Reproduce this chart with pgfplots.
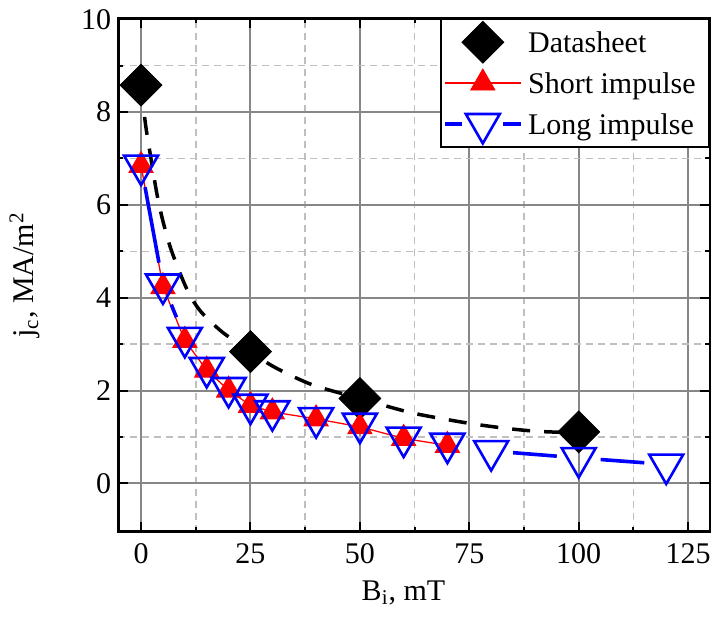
\documentclass[border=0pt]{standalone}
\usepackage{fontspec}
\setmainfont{Liberation Serif}
\usepackage{pgfplots}
\pgfplotsset{compat=1.18}
\newcommand\fs{\fontsize{15}{18}\selectfont}
\begin{document}
\begin{tikzpicture}
\begin{axis}[
 name=ax,
 scale only axis, width=295.85pt, height=256.7pt,
 xmin=-5.2, xmax=130, ymin=-1.04, ymax=10.02,
 xtick={0,25,...,125}, ytick={0,2,...,10},
 minor x tick num=1, minor y tick num=1,
 grid=both,
 major grid style={line width=1pt, color=black!47},
 minor grid style={line width=0.75pt, color=black!25, dash pattern=on 3.5pt off 2.5pt},
 tick align=inside,
 major tick length=5pt, minor tick length=2.5pt,
 tick style={black, line width=1pt},
 axis line style={line width=1.3pt},
 /pgf/number format/assume math mode=true,
 tick label style={font=\fs},
 xticklabel style={yshift=-2.5pt},
 xlabel={B\textsubscript{i}, mT},
 ylabel={j\textsubscript{c}, MA/m\textsuperscript{2}},
 every axis x label/.style={at={(axis description cs:0.482,-0.119)}, anchor=center, font=\fs},
 every axis y label/.style={at={(axis description cs:-0.158,0.5)}, anchor=center, rotate=90, font=\fs},
 legend style={at={(1,1)}, anchor=north east, draw=black, line width=1pt, fill=white,
   font=\fs, inner xsep=1.85pt, inner ysep=4.75pt, row sep=7pt, column sep=3.65pt,
   cells={anchor=west}, nodes={inner sep=0pt, text height=12pt, text depth=1.4pt}},
]
% Datasheet fit curve
\addplot[black, line width=1.75pt, dash pattern=on 9pt off 7pt, smooth, forget plot] coordinates {
 (0,8.58) (1,7.75) (2,7.15) (3.6,6.25) (5,5.65) (7,5.0) (10.4,4.2) (13.5,3.72) (18.7,3.25)
 (25,2.85) (30.2,2.52) (39,2.13) (50,1.83) (61,1.54) (68.5,1.40) (76,1.28) (84,1.18) (91,1.12) (100,1.09)};
% Datasheet points
\addplot[only marks, mark=square*, mark size=7.4pt,
  mark options={rotate=45, fill=black, draw=black, solid, line width=0.4pt}, forget plot]
  coordinates {(0,8.58) (25,2.84) (50,1.83) (100,1.11)};
% Short impulse
\addplot[red, line width=0.65pt, mark=triangle*, mark size=7pt,
  mark options={solid, fill=red, draw=red, line width=0.4pt}, forget plot]
  coordinates {(0,6.85) (5,4.24) (10,3.08) (15,2.44) (20,2.01) (25,1.68) (30,1.54)
   (40,1.39) (50,1.22) (60,0.97) (70,0.82)};
% Long impulse: line segments with gaps at the symbols
\addplot[blue, line width=1.8pt, shorten <=11pt, shorten >=11pt, forget plot] coordinates {(0,6.85) (5,4.29)};
\addplot[blue, line width=1.8pt, shorten <=11pt, shorten >=11pt, forget plot] coordinates {(5,4.29) (10,3.14)};
\addplot[blue, line width=1.8pt, shorten <=11pt, shorten >=11pt, forget plot] coordinates {(80,0.70) (100,0.55)};
\addplot[blue, line width=1.8pt, shorten <=11pt, shorten >=11pt, forget plot] coordinates {(100,0.55) (120,0.41)};
\addplot[only marks, mark=triangle, mark size=9.8pt,
  mark options={rotate=180, draw=blue, line width=1.3pt, solid}, forget plot]
  coordinates {(0,6.85) (5,4.29) (10,3.14) (15,2.49) (20,2.06) (25,1.70) (30,1.56)
   (40,1.41) (50,1.29) (60,0.99) (70,0.86) (80,0.70) (100,0.55) (120,0.41)};
% Legend
\addlegendimage{legend image code/.code={
  \path[use as bounding box, draw=none, fill=none] (0pt,-6.7pt) rectangle (38pt,6.7pt);
  \draw[black, fill=black, line width=0.4pt, only marks, mark=square*, mark size=7.4pt, mark options={rotate=45}] plot coordinates {(19pt,0pt)};
}}
\addlegendentry{\makebox[88.6pt][l]{Datasheet}}
\addlegendimage{legend image code/.code={
  \path[use as bounding box, draw=none, fill=none] (0pt,-6.7pt) rectangle (38pt,6.7pt);
  \draw[red, line width=0.65pt] (0pt,0pt) -- (38pt,0pt);
  \draw[red, fill=red, line width=0.4pt, only marks, mark=triangle*, mark size=7pt] plot coordinates {(19pt,0pt)};
}}
\addlegendentry{\makebox[88.6pt][l]{Short impulse}}
\addlegendimage{legend image code/.code={
  \path[use as bounding box, draw=none, fill=none] (0pt,-6.7pt) rectangle (38pt,6.7pt);
  \draw[blue, line width=1.8pt] (0pt,0pt) -- (8.5pt,0pt) (29pt,0pt) -- (38pt,0pt);
  \draw[blue, fill=none, line width=1.3pt, only marks, mark=triangle, mark size=9.8pt, mark options={rotate=180}] plot coordinates {(19pt,0pt)};
}}
\addlegendentry{\makebox[88.6pt][l]{Long impulse}}
\end{axis}
\pgfresetboundingbox
\path[use as bounding box] ([xshift=-59.15pt,yshift=-43.15pt]ax.south west) rectangle ([xshift=1pt,yshift=9.15pt]ax.north east);
\end{tikzpicture}
\end{document}
